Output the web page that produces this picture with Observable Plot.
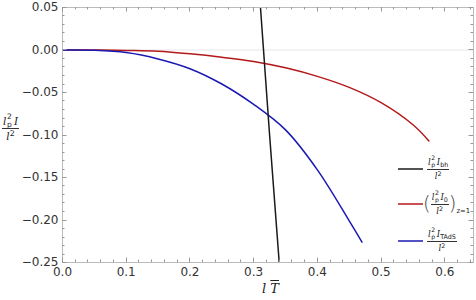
<!DOCTYPE html>
<html><head><meta charset="utf-8">
<script src="https://cdn.jsdelivr.net/npm/d3@7"></script>
<script src="https://cdn.jsdelivr.net/npm/@observablehq/plot@0.6"></script>
<style>
body{margin:0;background:#fff;}
#wrap{position:relative;width:476px;height:300px;font-family:"DejaVu Sans",sans-serif;overflow:hidden;}
.lab{position:absolute;color:#222;line-height:1;white-space:nowrap;}
.frac{display:inline-flex;flex-direction:column;align-items:center;}
.frac .num{padding:0 1px 1px;border-bottom:0.8px solid #333;}
.frac .den{padding-top:1px;}
.ss{display:inline-block;position:relative;width:0.75em;height:1em;vertical-align:top;font-size:0.72em;margin-right:0.25em;}
.ss .a{position:absolute;left:0.1em;top:-0.4em;}
.ss .b{position:absolute;left:0.1em;top:0.65em;}
.sub{font-size:0.75em;vertical-align:-0.3em;}
.sup{font-size:0.75em;vertical-align:0.45em;}
i{font-family:"DejaVu Serif",serif;}
</style></head>
<body><div id="wrap"></div>
<script>
// tick labels
const xMajor = [0, 0.1, 0.2, 0.3, 0.4, 0.5, 0.6];
const yMajor = [0.05, 0, -0.05, -0.1, -0.15, -0.2, -0.25];
const xMinor = [0.02,0.04,0.06,0.08,0.12,0.14,0.16,0.18,0.22,0.24,0.26,0.28,0.32,0.34,0.36,0.38,0.42,0.44,0.46,0.48,0.52,0.54,0.56,0.58,0.62,0.64];
const yMinor = [0.04,0.03,0.02,0.01,-0.01,-0.02,-0.03,-0.04,-0.06,-0.07,-0.08,-0.09,-0.11,-0.12,-0.13,-0.14,-0.16,-0.17,-0.18,-0.19,-0.21,-0.22,-0.23,-0.24];

// black: l_p^2 I_bh / l^2
const bhX = [0.3107, 0.3250, 0.3401];
const bhY = [0.05, -0.10, -0.25];
// red: (l_p^2 I_0 / l^2)_{z=1}
const redX = [0, 0.06, 0.1, 0.15, 0.2, 0.25, 0.3, 0.35, 0.4, 0.45, 0.5, 0.55, 0.575];
const redY = [0, 0, -0.0005, -0.0015, -0.0045, -0.0085, -0.0135, -0.021, -0.031, -0.044, -0.062, -0.088, -0.107];
// blue: l_p^2 I_TAdS / l^2
const blueX = [0, 0.05, 0.1, 0.15, 0.2, 0.25, 0.3, 0.35, 0.4, 0.45, 0.47];
const blueY = [0, -0.0003, -0.003, -0.0105, -0.022, -0.040, -0.064, -0.094, -0.141, -0.201, -0.226];

const zip = (xs, ys) => xs.map((x, i) => ({x, y: ys[i]}));

const W = 476, H = 300, mL = 62, mR = 3, mT = 7, mB = 38;
const xDom = [0, 0.645], yDom = [-0.25, 0.05];

const plot = Plot.plot({
  width: W, height: H,
  marginLeft: mL, marginRight: mR, marginTop: mT, marginBottom: mB,
  x: {domain: xDom},
  y: {domain: yDom},
  style: {fontFamily: "DejaVu Sans, sans-serif", fontSize: "12px", color: "#333", background: "white"},
  marks: [
    Plot.ruleY([0], {stroke: "#e6e6e6"}),
    Plot.line(zip(redX, redY), {x: "x", y: "y", stroke: "#b3191a", strokeWidth: 1.5, curve: "catmull-rom", clip: true}),
    Plot.line(zip(blueX, blueY), {x: "x", y: "y", stroke: "#1a1ab3", strokeWidth: 1.5, curve: "catmull-rom", clip: true}),
    Plot.line(zip(bhX, bhY), {x: "x", y: "y", stroke: "#1a1a1a", strokeWidth: 1.5, clip: true}),
    Plot.frame({stroke: "#bbb"}),
    Plot.axisX(xMajor, {anchor: "bottom", tickSize: 0, tickPadding: 5, tickFormat: ".1f", label: null}),
    Plot.axisY(yMajor, {anchor: "left", tickSize: 0, tickPadding: 4, tickFormat: ".2f", label: null})
  ]
});
const wrap = document.getElementById("wrap");
wrap.appendChild(plot);

// inward ticks on all four sides, placed with Plot's own scales
const sx = plot.scale("x"), sy = plot.scale("y");
const svgNS = "http://www.w3.org/2000/svg";
const lsvg = document.createElementNS(svgNS, "svg");
lsvg.setAttribute("width", W); lsvg.setAttribute("height", H);
lsvg.style.position = "absolute"; lsvg.style.left = "0"; lsvg.style.top = "0";
wrap.appendChild(lsvg);
function seg(x1, y1, x2, y2, color, w) {
  const ln = document.createElementNS(svgNS, "line");
  ln.setAttribute("x1", x1); ln.setAttribute("x2", x2);
  ln.setAttribute("y1", y1); ln.setAttribute("y2", y2);
  ln.setAttribute("stroke", color); ln.setAttribute("stroke-width", w);
  lsvg.appendChild(ln);
}
const tickColor = "#999";
const x0 = sx.apply(xDom[0]), x1 = sx.apply(xDom[1]);
const yb = sy.apply(yDom[0]), yt = sy.apply(yDom[1]);
[[xMajor, 4.5], [xMinor, 2.5]].forEach(([vals, len]) => vals.forEach(v => {
  const px = Math.round(sx.apply(v)) + 0.5;
  seg(px, yb, px, yb - len, tickColor, 1);
  seg(px, yt, px, yt + len, tickColor, 1);
}));
[[yMajor, 4.5], [yMinor, 2.5]].forEach(([vals, len]) => vals.forEach(v => {
  const py = Math.round(sy.apply(v)) + 0.5;
  seg(x0, py, x0 + len, py, tickColor, 1);
  seg(x1, py, x1 - len, py, tickColor, 1);
}));

const lp2 = `<i>l</i><span class="ss"><span class="a">2</span><span class="b">p</span></span>`;
const l2 = `<i>l</i><span class="sup">2</span>`;
function frac(num, den) {
  return `<span class="frac"><span class="num">${num}</span><span class="den">${den}</span></span>`;
}
function addLabel(html, left, top, size) {
  const d = document.createElement("div");
  d.className = "lab";
  d.style.left = left + "px";
  d.style.top = top + "px";
  d.style.fontSize = size + "px";
  d.innerHTML = html;
  wrap.appendChild(d);
  return d;
}
// y label
addLabel(frac(`${lp2}<i>I</i>`, l2), 2, 116, 10.5);
// x label
addLabel(`<i>l</i> <span style="text-decoration:overline;font-style:italic;font-family:'DejaVu Serif',serif">T</span>`, 262, 282, 13);

// legend
const paren = s => `<span style="font-size:2.3em;font-weight:100;color:#444;vertical-align:middle;line-height:1">${s}</span>`;
const legend = [
  {color: "#1a1a1a", y: 169, left: 427, html: frac(`${lp2}<i>I</i><span class="sub">bh</span>`, l2)},
  {color: "#b3191a", y: 204, left: 423, html: paren("(") + frac(`${lp2}<i>I</i><span class="sub">0</span>`, l2) + paren(")") + `<span style="font-size:0.8em;align-self:flex-end;margin-bottom:1px">z=1</span>`},
  {color: "#1a1ab3", y: 241, left: 427, html: frac(`${lp2}<i>I</i><span class="sub">TAdS</span>`, l2)}
];
legend.forEach(e => {
  seg(398, e.y, 423, e.y, e.color, 1.5);
  const d = addLabel(e.html, e.left, 0, 8.5);
  d.style.display = "flex"; d.style.alignItems = "center";
  const h = d.getBoundingClientRect().height;
  d.style.top = (e.y - h / 2) + "px";
});
</script></body></html>
